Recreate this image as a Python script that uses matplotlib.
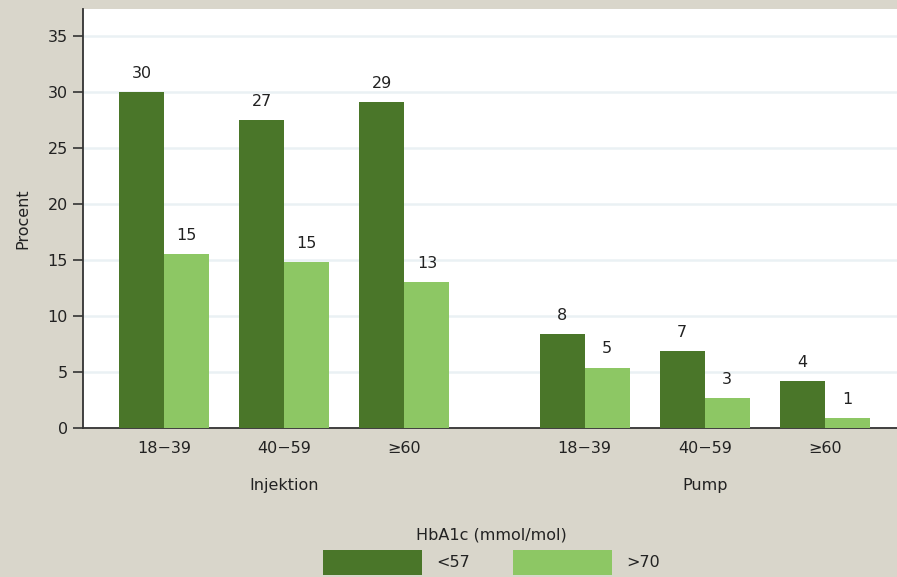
import matplotlib.pyplot as plt
import numpy as np

BG_COLOR = "#d9d6cb"
DARK_GREEN = "#4a7629"
LIGHT_GREEN = "#8dc764"
GRID_COLOR = "#eaf1f4"
TEXT_COLOR = "#222222"
AXIS_COLOR = "#333333"

plt.rcParams["font.family"] = ["DejaVu Sans"]

age_groups = ["18\u221239", "40\u221259", "\u226560", "18\u221239", "40\u221259", "\u226560"]
treatments = ["Injektion", "Pump"]
low_values = [30.0, 27.5, 29.1, 8.4, 6.9, 4.2]
high_values = [15.5, 14.8, 13.0, 5.4, 2.7, 0.9]
low_labels = ["30", "27", "29", "8", "7", "4"]
high_labels = ["15", "15", "13", "5", "3", "1"]
series_names = ["<57", ">70"]

# groups within a treatment are 1 unit apart, treatments have an extra half unit gap
x = np.array([0, 1, 2, 3.5, 4.5, 5.5])
width = 0.375
FS = 11.5

fig = plt.figure(figsize=(8.97, 5.77), dpi=100, facecolor=BG_COLOR)
ax = fig.add_axes([0.0925, 0.2582, 0.9075, 0.7262])
ax.set_facecolor("white")

b1 = ax.bar(x - width / 2, low_values, width, color=DARK_GREEN, label=series_names[0], zorder=3)
b2 = ax.bar(x + width / 2, high_values, width, color=LIGHT_GREEN, label=series_names[1], zorder=3)
ax.bar_label(b1, labels=low_labels, padding=8, fontsize=FS, color=TEXT_COLOR)
ax.bar_label(b2, labels=high_labels, padding=8, fontsize=FS, color=TEXT_COLOR)

ax.set_xlim(-0.675, 6.1)
ax.set_ylim(0, 37.4)
ax.set_yticks(np.arange(0, 36, 5))
ax.set_xticks(x)
ax.set_xticklabels(age_groups)
ax.tick_params(axis="x", length=0, pad=9, labelsize=FS, labelcolor=TEXT_COLOR)
ax.tick_params(axis="y", length=7, width=1.2, color=AXIS_COLOR, pad=4, labelsize=FS, labelcolor=TEXT_COLOR)
ax.yaxis.grid(True, color=GRID_COLOR, linewidth=1.8, zorder=0)

for side in ["top", "right"]:
    ax.spines[side].set_visible(False)
for side in ["left", "bottom"]:
    ax.spines[side].set_color(AXIS_COLOR)
    ax.spines[side].set_linewidth(1.3)

ax.set_ylabel("Procent", fontsize=FS, color=TEXT_COLOR, labelpad=12)

# treatment labels under the middle group of each block
for name, xc in zip(treatments, [x[1], x[4]]):
    ax.text(xc, -5.1, name, ha="center", va="center", fontsize=FS, color=TEXT_COLOR)

leg = fig.legend(
    handles=[b1, b2],
    loc="upper center",
    bbox_to_anchor=(0.548, 0.106),
    ncol=2,
    frameon=False,
    title="HbA1c (mmol/mol)",
    fontsize=FS,
    title_fontsize=FS,
    handlelength=6.2,
    handleheight=2.0,
    handletextpad=0.9,
    columnspacing=2.65,
    borderpad=0.2,
)
for text in leg.get_texts():
    text.set_color(TEXT_COLOR)
leg.get_title().set_color(TEXT_COLOR)

fig.savefig("out.png", dpi=100, facecolor=BG_COLOR)
